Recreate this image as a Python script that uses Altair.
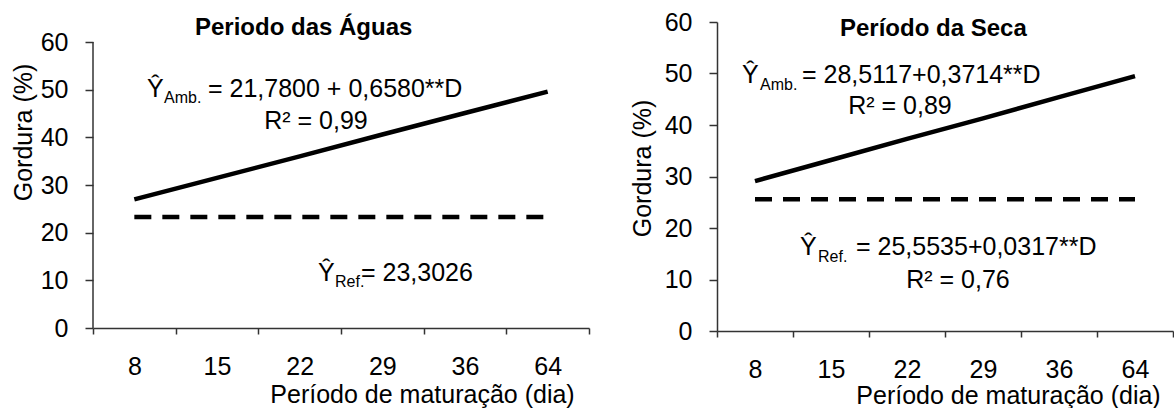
import altair as alt
import pandas as pd

# ---- data ----
days = ["8", "15", "22", "29", "36", "64"]
aguas_amb = [27.0, 31.5, 36.0, 40.6, 45.1, 49.6]
aguas_ref = [23.3, 23.3, 23.3, 23.3, 23.3, 23.3]
seca_amb = [29.1, 33.2, 37.3, 41.3, 45.4, 49.5]
seca_ref = [25.6, 25.6, 25.6, 25.6, 25.6, 25.6]
y_ticks = [0, 10, 20, 30, 40, 50, 60]

panel_titles = ["Periodo das Águas", "Período da Seca"]
y_title = "Gordura (%)"
x_title = "Período de maturação (dia)"

FONT = "Liberation Sans"
AX = "#333333"
one = pd.DataFrame({"k": [0]})


def txt(text, x, y, size=25, bold=False, align="left"):
    return alt.Chart(one).mark_text(
        text=text, font=FONT, fontSize=size,
        fontWeight="bold" if bold else "normal",
        align=align, baseline="middle", color="black",
    ).encode(x=alt.value(x), y=alt.value(y))


def panel(amb, ref, width, height, ymax, ox, oy, ytpos, xtpos, texts, rule):
    df_amb = pd.DataFrame({"dia": days, "v": amb})
    df_ref = pd.DataFrame({"dia": days, "v": ref})
    xenc = alt.X(
        "dia:N", sort=days,
        scale=alt.Scale(type="band", paddingInner=0, paddingOuter=0),
        axis=alt.Axis(
            title=x_title, tickBand="extent", labelAngle=0, tickSize=6,
            labelPadding=20, titleX=xtpos[0] - ox, titleY=xtpos[1] - (oy + height),
            titleAlign="center", titleBaseline="middle",
        ),
    )
    yenc = alt.Y(
        "v:Q",
        scale=alt.Scale(domain=[0, ymax], nice=False, zero=True),
        axis=alt.Axis(
            values=y_ticks, title=y_title, domain=not rule, tickSize=8,
            labelPadding=17, titleX=ytpos[0] - ox, titleY=ytpos[1] - oy,
            titleAlign="center", titleBaseline="middle", grid=False,
        ),
    )
    solid = alt.Chart(df_amb).mark_line(color="black", strokeWidth=4.5).encode(x=xenc, y=yenc)
    dashed = alt.Chart(df_ref).mark_line(
        color="black", strokeWidth=4.5, strokeDash=[17, 11], strokeCap="butt"
    ).encode(x=xenc, y=yenc)
    layers = [solid, dashed]
    if rule:
        layers.append(
            alt.Chart(one).mark_rule(color=AX, strokeWidth=1.5).encode(
                x=alt.value(0), y=alt.datum(0), y2=alt.datum(60)
            )
        )
    for t in texts:
        text, x, y = t[0], t[1], t[2]
        kw = t[3] if len(t) > 3 else {}
        layers.append(txt(text, x - ox, y - oy, **kw))
    return alt.layer(*layers).properties(width=width, height=height)


left = panel(
    aguas_amb, aguas_ref, 496, 306, 64.2, 93, 23, (23, 133), (422, 395),
    [
        (panel_titles[0], 195, 28.5, {"size": 24, "bold": True}),
        ("Ŷ", 147, 90),
        ("Amb.", 164, 99, {"size": 16}),
        ("= 21,7800 + 0,6580**D", 208, 90),
        ("R² = 0,99", 316, 122, {"align": "center"}),
        ("Ŷ", 318, 274),
        ("Ref.", 335, 283, {"size": 16}),
        ("= 23,3026", 361, 274),
    ],
    True,
)

right = panel(
    seca_amb, seca_ref, 456, 309, 60, 717, 23, (642, 169), (1008, 396),
    [
        (panel_titles[1], 840, 30, {"size": 24, "bold": True}),
        ("Ŷ", 742, 76),
        ("Amb.", 760, 86, {"size": 16}),
        ("= 28,5117+0,3714**D", 802, 76),
        ("R² = 0,89", 900, 107, {"align": "center"}),
        ("Ŷ", 800, 248),
        ("Ref.", 818, 258, {"size": 16}),
        ("= 25,5535+0,0317**D", 856, 248),
        ("R² = 0,76", 958, 281, {"align": "center"}),
    ],
    False,
)

chart = alt.hconcat(left, right, spacing=128, bounds="flush").properties(
    padding={"left": 10, "top": 10, "right": 0, "bottom": 0},
    background="white",
).configure_view(stroke=None).configure_axis(
    labelFont=FONT, titleFont=FONT, labelFontSize=25, titleFontSize=25,
    labelColor="black", titleColor="black", titleFontWeight="normal",
    domainColor=AX, tickColor=AX, domainWidth=1.5, tickWidth=1.5, grid=False,
)

chart.save("out.html", embed_options={"renderer": "svg", "actions": False})
